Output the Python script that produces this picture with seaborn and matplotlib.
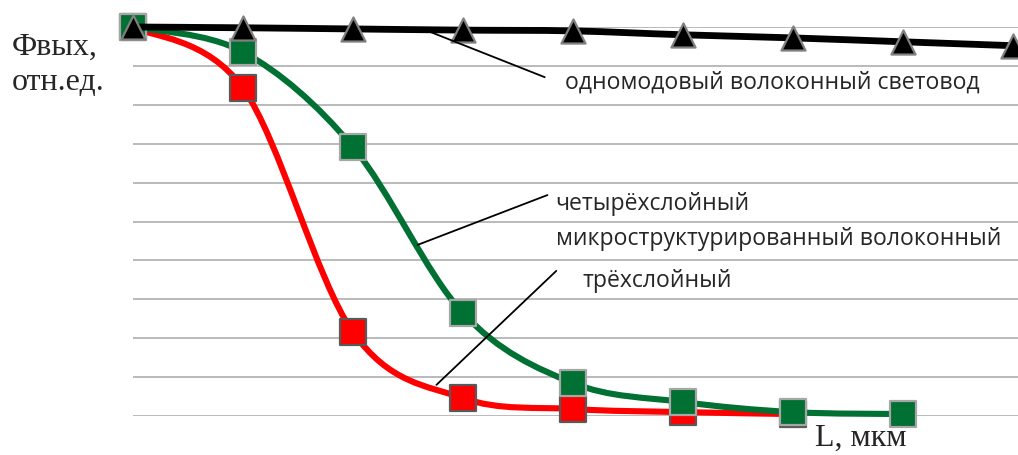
import numpy as np
import pandas as pd
import seaborn as sns
import matplotlib
matplotlib.use("Agg")
import matplotlib.pyplot as plt
from matplotlib.path import Path
from matplotlib.patches import PathPatch

# data (relative units)
L_points = [0, 1, 2, 3, 4, 5, 6, 7, 8]
single_mode = [1.0, 0.998, 0.995, 0.992, 0.990, 0.980, 0.972, 0.962, 0.952]
four_layer = [1.0, 0.936, 0.692, 0.265, 0.085, 0.036, 0.010, 0.005]
three_layer = [1.0, 0.843, 0.216, 0.046, 0.018, 0.010, 0.005]

sns.set_style("white")
SANS = ["Open Sans", "DejaVu Sans"]
SERIF = ["Liberation Serif", "DejaVu Serif"]


def smooth_path(xs, ys):
    # Excel-like smoothed line: cubic bezier through the points (Catmull-Rom tangents)
    pts = np.column_stack([xs, ys]).astype(float)
    n = len(pts)
    verts = [pts[0]]
    codes = [Path.MOVETO]
    for i in range(n - 1):
        p0 = pts[max(i - 1, 0)]
        p1 = pts[i]
        p2 = pts[i + 1]
        p3 = pts[min(i + 2, n - 1)]
        c1 = p1 + (p2 - p0) / 6.0
        c2 = p2 - (p3 - p1) / 6.0
        verts += [c1, c2, p2]
        codes += [Path.CURVE4] * 3
    return Path(verts, codes)


fig = plt.figure(figsize=(10.18, 4.56), dpi=100)
ax = fig.add_axes([133 / 1018, 39 / 456, 885 / 1018, 389 / 456])

series = [
    (three_layer, "#ff0000", "s", "#595959", 4.4, 330),
    (four_layer, "#007033", "s", "#a6a6a6", 4.4, 330),
    (single_mode, "#000000", "^", "#808080", 4.9, 300),
]
z = 3
for vals, col, mk, ec, lw, ms in series:
    xs = L_points[:len(vals)]
    patch = PathPatch(smooth_path(xs, vals), facecolor="none", edgecolor=col,
                      linewidth=lw, capstyle="round", joinstyle="round",
                      zorder=z, clip_on=False)
    ax.add_patch(patch)
    df = pd.DataFrame({"L": xs, "F": vals})
    sns.scatterplot(data=df, x="L", y="F", marker=mk, s=ms, color=col,
                    edgecolor=ec, linewidth=1.6, ax=ax, zorder=z + 0.5,
                    clip_on=False, legend=False)
    z += 1

ax.set_xlim(0, 8.05)
ax.set_ylim(0, 1.0)
ax.set_yticks(np.arange(0, 1.01, 0.1))
ax.set_xticks([])
ax.yaxis.grid(True, color="#b4b4b4", linewidth=1.3)
ax.tick_params(left=False, labelleft=False)
ax.set_xlabel("")
ax.set_ylabel("")
for s in ax.spines.values():
    s.set_visible(False)
ax.set_axisbelow(True)

# leader lines
ax.plot([2.68, 3.745], [0.990, 0.871], color="black", lw=1.3, zorder=10, clip_on=False)
ax.plot([2.59, 3.77], [0.440, 0.568], color="black", lw=1.3, zorder=10, clip_on=False)
ax.plot([2.76, 3.85], [0.080, 0.373], color="black", lw=1.3, zorder=10, clip_on=False)

ax.text(3.93, 0.859, "одномодовый волоконный световод", family=SANS, fontsize=16.6,
        va="center", ha="left")
ax.text(3.845, 0.548, "четырёхслойный", family=SANS, fontsize=16.6, va="center", ha="left")
ax.text(3.845, 0.458, "микроструктурированный волоконный", family=SANS, fontsize=16.6,
        va="center", ha="left")
ax.text(4.09, 0.350, "трёхслойный", family=SANS, fontsize=16.6, va="center", ha="left")

fig.text(12 / 1018, 1 - 55 / 456, "Фвых,", family=SERIF, fontsize=23, va="baseline")
fig.text(12 / 1018, 1 - 90 / 456, "отн.ед.", family=SERIF, fontsize=23, va="baseline")
fig.text(815 / 1018, 0.022, "L, мкм", family=SERIF, fontsize=23, va="baseline")

fig.savefig("out.png", dpi=100)
